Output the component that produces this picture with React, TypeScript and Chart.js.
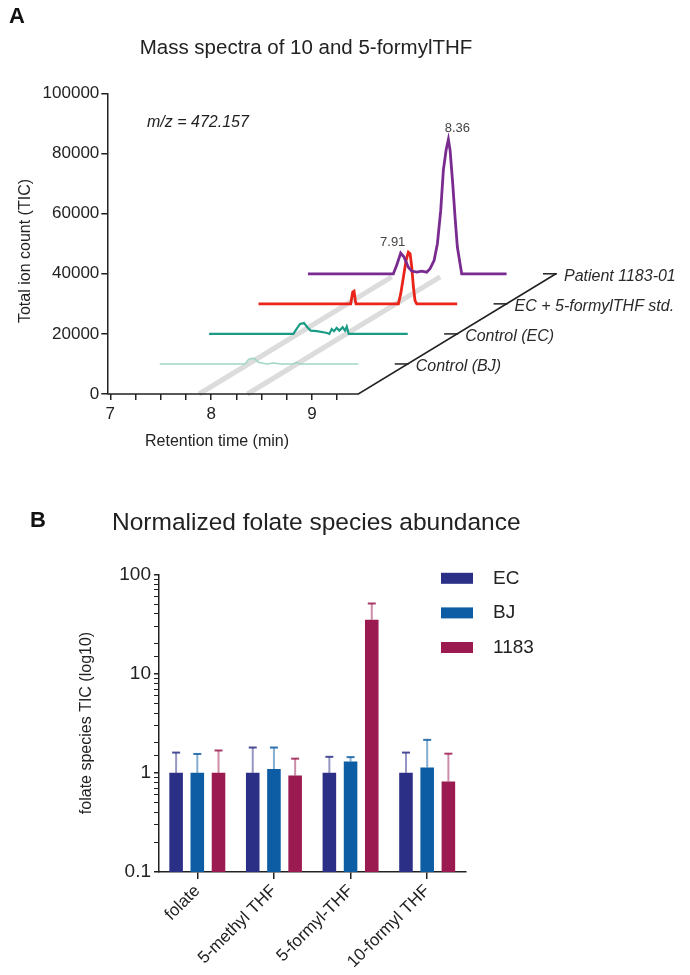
import React, { useEffect, useRef } from 'react';
import { Chart, registerables } from 'chart.js';

Chart.register(...registerables);

const FONT = "'Liberation Sans', Arial, Helvetica, sans-serif";
const INK = '#222222';

// ---------------- Panel A : stacked chromatograms ----------------
const TITLE_A = 'Mass spectra of 10 and 5-formylTHF';
const MZ_LABEL = 'm/z = 472.157';
const X_TITLE_A = 'Retention time (min)';
const Y_TITLE_A = 'Total ion count (TIC)';
const X_LABELS_A = [7, 8, 9];
const Y_STEP_A = 20000;
const Y_MAX_A = 100000;

const TRACE_LABELS = ['Control (BJ)', 'Control (EC)', 'EC + 5-formylTHF std.', 'Patient 1183-01'];
const TRACE_COLORS = ['#9fd8c3', '#1b9b86', '#ea2418', '#7a2b8f'];

// each trace: retention time (min) and TIC above its own baseline
const BJ_RT = [7.0, 7.846, 7.879, 7.912, 7.945, 7.978, 8.011, 8.061, 8.127, 8.193, 8.325, 8.358, 8.385, 8.97];
const BJ_TIC = [0, 0, 1400, 1900, 1700, 550, 330, 0, 330, 0, 0, 550, 0, 0];

const EC_RT = [7.0, 7.835, 7.868, 7.902, 7.941, 7.974, 8.007, 8.067, 8.133, 8.17, 8.192, 8.216, 8.239, 8.265, 8.292, 8.325, 8.348, 8.365, 8.384, 8.97];
const EC_TIC = [0, 0, 1700, 3300, 3600, 2200, 1100, 900, 550, 300, 0, 1600, 900, 2000, 1100, 2200, 1100, 2400, 0, 0];

const STD_RT = [7.0, 7.914, 7.934, 7.947, 7.96, 7.967, 8.387, 8.41, 8.437, 8.463, 8.486, 8.503, 8.52, 8.536, 8.552, 8.569, 8.97];
const STD_TIC = [0, 0, 3900, 4200, 1100, 0, 0, 3300, 8900, 14400, 17200, 16700, 12200, 5600, 1100, 0, 0];

const PT_RT = [7.0, 7.847, 7.88, 7.92, 7.953, 7.996, 8.029, 8.079, 8.128, 8.178, 8.211, 8.251, 8.284, 8.317, 8.343, 8.37, 8.393, 8.41, 8.436, 8.459, 8.482, 8.509, 8.525, 8.97];
const PT_TIC = [0, 0, 2800, 6900, 5600, 2200, 900, 550, 900, 550, 1700, 4400, 10000, 21100, 34400, 41100, 44700, 41100, 30000, 18900, 8900, 3300, 0, 0];

const PEAK_LABELS = ['7.91', '8.36'];
const PEAK_INDEX = [3, 16]; // points of the patient trace that carry the labels
const STRIPE_RT = [7.88, 8.36];

// waterfall geometry (per depth step)
const DEPTH_DX = 0.49;
const DEPTH_DY = 10000;
const STRIPE_DEPTH = 3.9;
const X_MIN_A = 6.97;
const X_MAX_A = 11.46;
const X_AXIS_END = 9.46;

// ---------------- Panel B : bar chart ----------------
const TITLE_B = 'Normalized folate species abundance';
const Y_TITLE_B = 'folate species TIC (log10)';
const CATEGORIES = ['folate', '5-methyl THF', '5-formyl-THF', '10-formyl THF'];
const GROUPS = ['EC', 'BJ', '1183'];
const GROUP_COLORS = ['#2c2f86', '#0c5da3', '#9b1a4f'];
const EC_MEAN = [1.0, 1.0, 1.0, 1.0];
const EC_UPPER = [1.6, 1.8, 1.45, 1.6];
const BJ_MEAN = [1.0, 1.09, 1.3, 1.13];
const BJ_UPPER = [1.55, 1.8, 1.44, 2.15];
const P1183_MEAN = [1.0, 0.94, 35, 0.82];
const P1183_UPPER = [1.68, 1.39, 51, 1.56];
const Y_MIN_B = 0.1;
const Y_MAX_B = 100;

function rgba(hex: string, a: number) {
  const n = parseInt(hex.slice(1), 16);
  return `rgba(${(n >> 16) & 255},${(n >> 8) & 255},${n & 255},${a})`;
}

function isPow10(v: number) {
  const l = Math.log10(v);
  return Math.abs(l - Math.round(l)) < 1e-9;
}

export default function App() {
  const refA = useRef<HTMLCanvasElement>(null);
  const refB = useRef<HTMLCanvasElement>(null);

  useEffect(() => {
    Chart.defaults.font.family = FONT;

    // ---------- Chart A ----------
    const traces = [
      { rt: BJ_RT, tic: BJ_TIC },
      { rt: EC_RT, tic: EC_TIC },
      { rt: STD_RT, tic: STD_TIC },
      { rt: PT_RT, tic: PT_TIC },
    ];
    const widths = [1.6, 2.2, 2.8, 2.8];
    const traceDatasets = traces.map((t, i) => {
      const depth = i + 1;
      return {
        label: TRACE_LABELS[i],
        data: t.rt.map((r, k) => ({ x: r + depth * DEPTH_DX, y: t.tic[k] + depth * DEPTH_DY })),
        borderColor: TRACE_COLORS[i],
        backgroundColor: TRACE_COLORS[i],
        borderWidth: widths[i],
        pointRadius: 0,
        tension: 0,
        order: 10 - depth,
        clip: false as any,
      };
    });
    const stripeDatasets = STRIPE_RT.map((r) => ({
      label: 'stripe',
      data: [
        { x: r, y: 0 },
        { x: r + STRIPE_DEPTH * DEPTH_DX, y: STRIPE_DEPTH * DEPTH_DY },
      ],
      borderColor: 'rgba(185,185,185,0.5)',
      borderWidth: 5,
      pointRadius: 0,
      order: 20,
      clip: false as any,
    }));
    const nDepth = TRACE_LABELS.length;
    const axisDataset = {
      label: 'axis',
      data: [
        { x: X_MIN_A, y: 0 },
        { x: X_AXIS_END, y: 0 },
        { x: X_AXIS_END + nDepth * DEPTH_DX, y: nDepth * DEPTH_DY },
      ],
      borderColor: INK,
      borderWidth: 1.6,
      pointRadius: 0,
      order: 0,
      clip: false as any,
    };

    const annotA = {
      id: 'annotA',
      afterDraw(chart: any) {
        const { ctx, scales } = chart;
        const x = scales.x;
        const y = scales.y;
        ctx.save();
        ctx.fillStyle = '#111';
        ctx.textBaseline = 'middle';
        ctx.textAlign = 'left';
        ctx.font = `bold 22px ${FONT}`;
        ctx.fillText('A', 9, 17);
        ctx.fillStyle = INK;
        ctx.font = `20.5px ${FONT}`;
        ctx.textAlign = 'center';
        ctx.fillText(TITLE_A, 306, 48);
        ctx.font = `italic 16px ${FONT}`;
        ctx.textAlign = 'left';
        ctx.fillText(MZ_LABEL, 147, 123);
        // axis titles
        ctx.font = `16px ${FONT}`;
        ctx.textAlign = 'center';
        ctx.fillText(X_TITLE_A, 217, 442);
        ctx.save();
        ctx.translate(26, 251);
        ctx.rotate(-Math.PI / 2);
        ctx.fillText(Y_TITLE_A, 0, 0);
        ctx.restore();
        // depth ticks and labels
        ctx.strokeStyle = INK;
        ctx.lineWidth = 1.5;
        ctx.font = `italic 16px ${FONT}`;
        ctx.textAlign = 'left';
        ctx.fillStyle = '#2a2a2a';
        TRACE_LABELS.forEach((lab, i) => {
          const d = i + 1;
          const px = x.getPixelForValue(X_AXIS_END + d * DEPTH_DX);
          const py = y.getPixelForValue(d * DEPTH_DY);
          ctx.beginPath();
          ctx.moveTo(px - 13, py);
          ctx.lineTo(px + 1, py);
          ctx.stroke();
          ctx.fillText(lab, px + 8, py + 3);
        });
        // peak labels
        ctx.font = `13px ${FONT}`;
        ctx.fillStyle = '#444';
        ctx.textAlign = 'center';
        const ptDepth = 4;
        PEAK_LABELS.forEach((lab, i) => {
          const k = PEAK_INDEX[i];
          const px = x.getPixelForValue(PT_RT[k] + ptDepth * DEPTH_DX);
          const py = y.getPixelForValue(PT_TIC[k] + ptDepth * DEPTH_DY);
          ctx.fillText(lab, px + (i === 0 ? -8 : 9), py - 11);
        });
        ctx.restore();
      },
    };

    const chartA = new Chart(refA.current!, {
      type: 'line',
      data: { datasets: [...stripeDatasets, ...traceDatasets, axisDataset] as any },
      options: {
        responsive: false,
        animation: false,
        devicePixelRatio: 1,
        layout: { padding: { left: 0, top: 93.5, right: 130, bottom: 26 } },
        plugins: { legend: { display: false }, tooltip: { enabled: false } },
        scales: {
          x: {
            type: 'linear',
            min: X_MIN_A,
            max: X_MAX_A,
            afterFit: (s: any) => {
              s.height = 40;
            },
            border: { display: false },
            grid: {
              drawOnChartArea: false,
              drawTicks: true,
              tickLength: 6,
              lineWidth: 1.5,
              color: (c: any) => (c.tick && c.tick.value >= 7 && c.tick.value <= 9.3 ? INK : 'rgba(0,0,0,0)'),
            },
            ticks: {
              stepSize: 0.25,
              autoSkip: false,
              includeBounds: false,
              maxRotation: 0,
              padding: 4,
              color: INK,
              font: { size: 17, family: FONT },
              callback: (v: any) => (X_LABELS_A.includes(Number(v)) ? String(v) : ''),
            },
          },
          y: {
            min: 0,
            max: Y_MAX_A,
            afterFit: (s: any) => {
              s.width = 107.3;
            },
            border: { color: INK, width: 1.5 },
            grid: { drawOnChartArea: false, tickLength: 6, color: INK, lineWidth: 1.5 },
            ticks: {
              stepSize: Y_STEP_A,
              padding: 2,
              color: INK,
              font: { size: 17, family: FONT },
              callback: (v: any) => String(v),
            },
          },
        },
      } as any,
      plugins: [annotA],
    });

    // ---------- Chart B ----------
    const means = [EC_MEAN, BJ_MEAN, P1183_MEAN];
    const uppers = [EC_UPPER, BJ_UPPER, P1183_UPPER];

    const errorBars = {
      id: 'errorBars',
      afterDatasetsDraw(chart: any) {
        const { ctx } = chart;
        const y = chart.scales.y;
        ctx.save();
        chart.data.datasets.forEach((ds: any, i: number) => {
          const meta = chart.getDatasetMeta(i);
          meta.data.forEach((el: any, j: number) => {
            const top = y.getPixelForValue(ds.errorUpper[j]);
            ctx.strokeStyle = rgba(GROUP_COLORS[i], 0.5);
            ctx.lineWidth = 2;
            ctx.beginPath();
            ctx.moveTo(el.x, el.y);
            ctx.lineTo(el.x, top);
            ctx.stroke();
            ctx.strokeStyle = rgba(GROUP_COLORS[i], 0.85);
            ctx.beginPath();
            ctx.moveTo(el.x - 4, top);
            ctx.lineTo(el.x + 4, top);
            ctx.stroke();
          });
        });
        ctx.restore();
      },
      afterDraw(chart: any) {
        const { ctx } = chart;
        ctx.save();
        ctx.textBaseline = 'middle';
        ctx.textAlign = 'left';
        ctx.fillStyle = '#111';
        ctx.font = `bold 22px ${FONT}`;
        ctx.fillText('B', 30, 61);
        ctx.fillStyle = INK;
        ctx.font = `24.5px ${FONT}`;
        ctx.fillText(TITLE_B, 112, 63);
        ctx.font = `16px ${FONT}`;
        ctx.textAlign = 'center';
        ctx.save();
        ctx.translate(87, 263);
        ctx.rotate(-Math.PI / 2);
        ctx.fillText(Y_TITLE_B, 0, 0);
        ctx.restore();
        // legend
        ctx.font = `19px ${FONT}`;
        ctx.textAlign = 'left';
        chart.data.datasets.forEach((ds: any, i: number) => {
          const cy = 118.3 + i * 34.6;
          ctx.fillStyle = ds.backgroundColor;
          ctx.fillRect(441, cy - 5.5, 32, 11);
          ctx.fillStyle = INK;
          ctx.fillText(ds.label, 493, cy);
        });
        ctx.restore();
      },
    };

    const chartB = new Chart(refB.current!, {
      type: 'bar',
      data: {
        labels: CATEGORIES,
        datasets: GROUPS.map((g, i) => ({
          label: g,
          data: means[i],
          errorUpper: uppers[i],
          backgroundColor: GROUP_COLORS[i],
          borderWidth: 0,
          barPercentage: 0.64,
          categoryPercentage: 0.83,
        })) as any,
      },
      options: {
        responsive: false,
        animation: false,
        devicePixelRatio: 1,
        layout: { padding: { left: 0, top: 114.5, right: 224.5, bottom: 8 } },
        plugins: { legend: { display: false }, tooltip: { enabled: false } },
        scales: {
          x: {
            afterFit: (s: any) => {
              s.height = 95;
            },
            border: { color: INK, width: 1.5 },
            grid: { offset: false, drawOnChartArea: false, tickLength: 7, color: INK, lineWidth: 1.5 },
            ticks: {
              minRotation: 45,
              maxRotation: 45,
              autoSkip: false,
              padding: 2,
              color: INK,
              font: { size: 17, family: FONT },
            },
          },
          y: {
            type: 'logarithmic',
            min: Y_MIN_B,
            max: Y_MAX_B,
            afterFit: (s: any) => {
              s.width = 159;
            },
            border: { color: INK, width: 1.5 },
            grid: {
              drawOnChartArea: false,
              tickLength: 5,
              color: INK,
              lineWidth: (c: any) => (c.tick && isPow10(c.tick.value) ? 1.5 : 1),
            },
            ticks: {
              autoSkip: false,
              padding: 3,
              color: INK,
              font: { size: 19, family: FONT },
              callback: (v: any) => (isPow10(Number(v)) ? String(+Number(v).toPrecision(6)) : ''),
            },
          },
        },
      } as any,
      plugins: [errorBars],
    });

    return () => {
      chartA.destroy();
      chartB.destroy();
    };
  }, []);

  return (
    <div style={{ position: 'absolute', left: 0, top: 0, width: 690, height: 975, background: '#ffffff' }}>
      <canvas
        ref={refA}
        width={690}
        height={460}
        style={{ position: 'absolute', left: 0, top: 0, width: 690, height: 460 }}
      />
      <canvas
        ref={refB}
        width={690}
        height={515}
        style={{ position: 'absolute', left: 0, top: 460, width: 690, height: 515 }}
      />
    </div>
  );
}
